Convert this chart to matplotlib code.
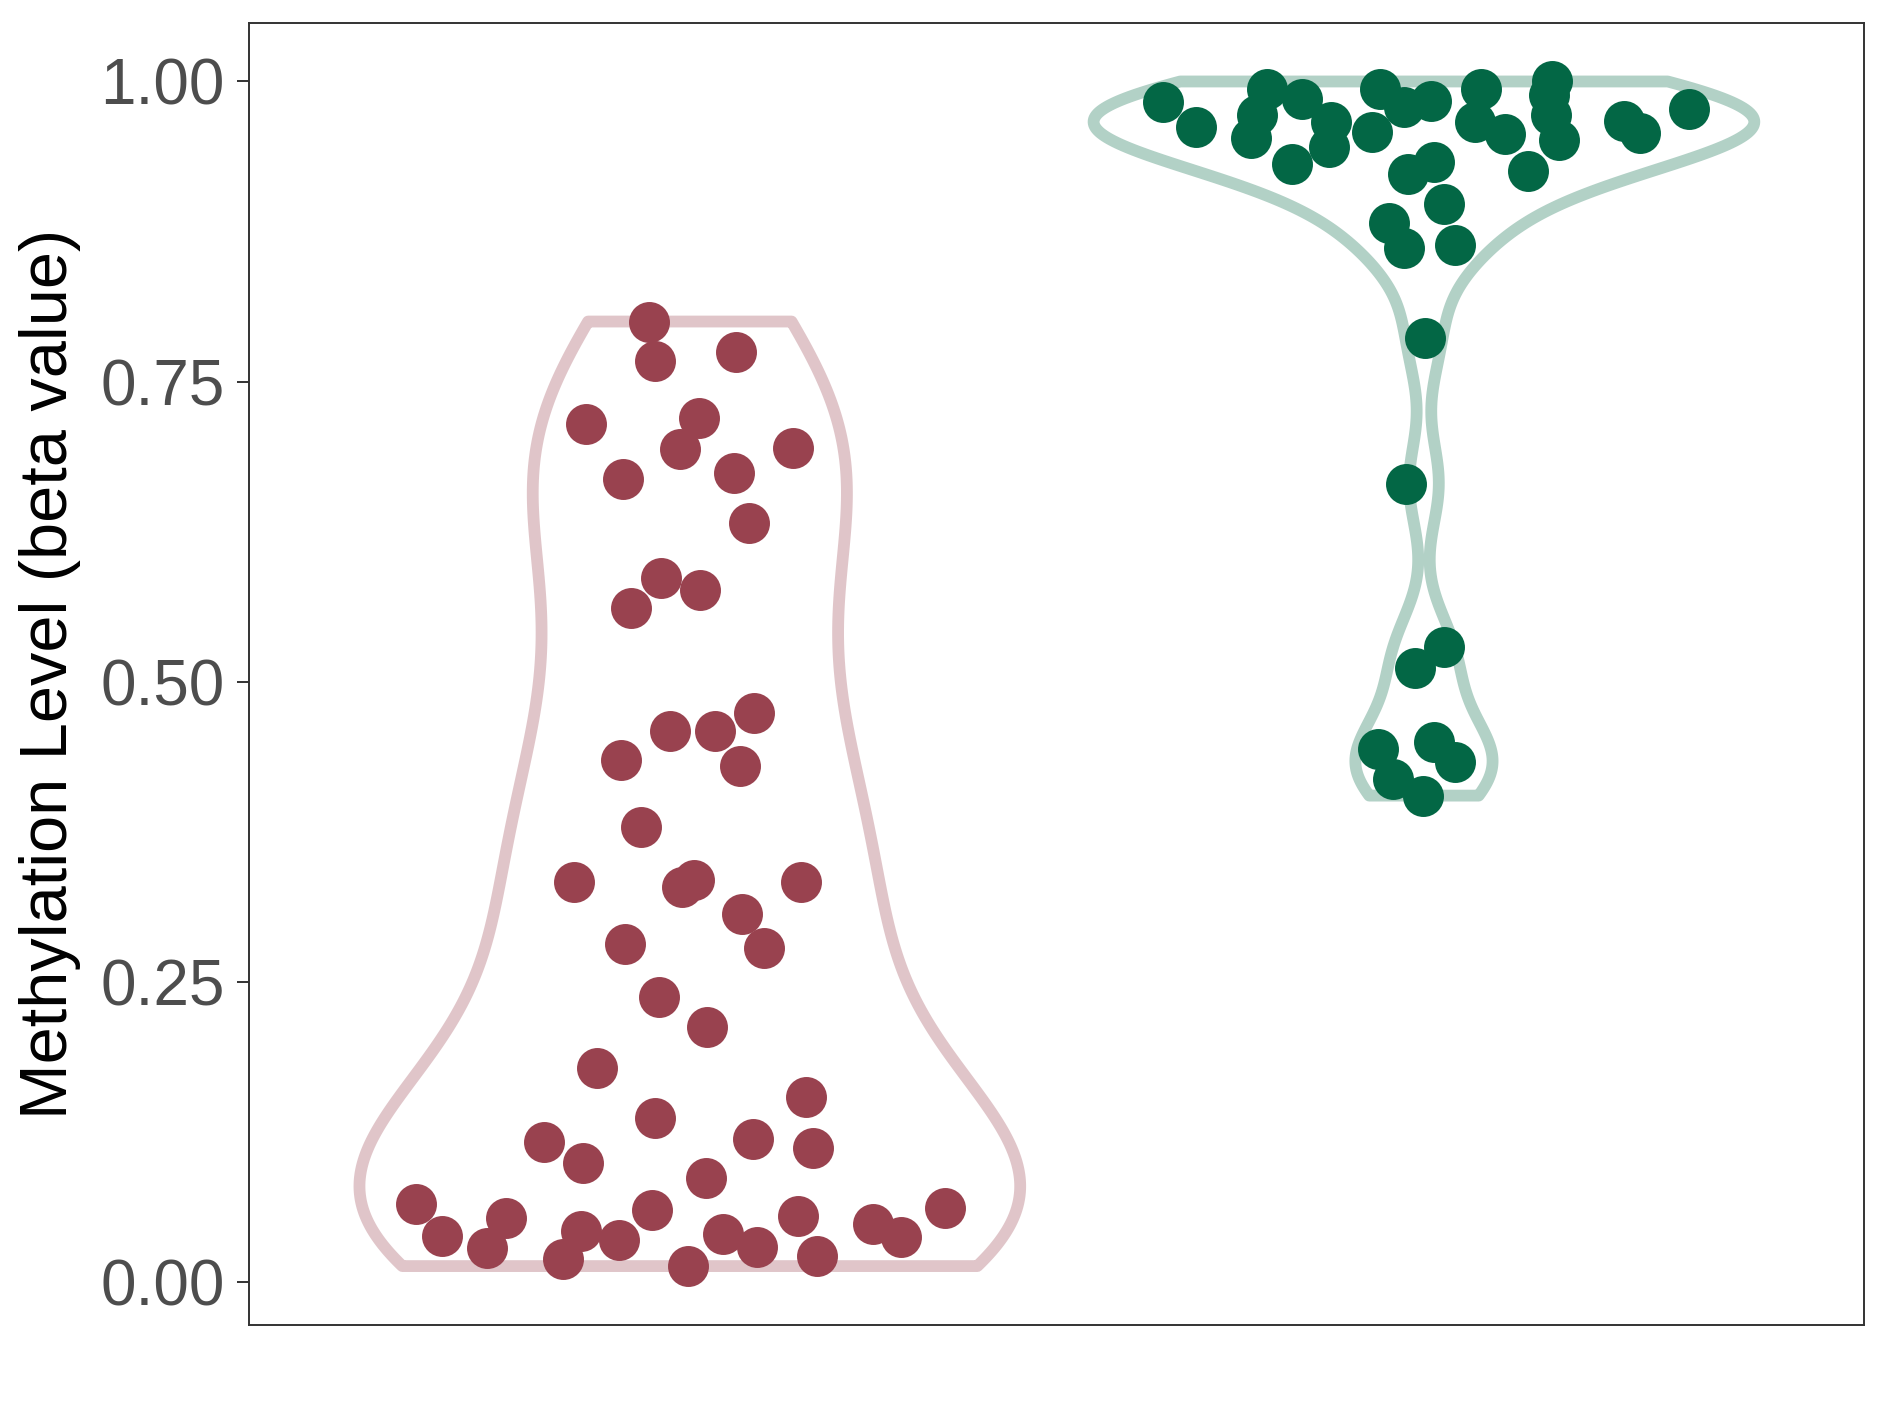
import numpy as np
import matplotlib.pyplot as plt

# methylation values (beta) and horizontal jitter offsets
red_beta = [0.065, 0.038, 0.028, 0.053, 0.019, 0.042, 0.035, 0.116, 0.099, 0.178,
            0.060, 0.136, 0.013, 0.086, 0.040, 0.029, 0.119, 0.055, 0.021, 0.111,
            0.154, 0.048, 0.037, 0.061, 0.237, 0.212, 0.281, 0.278, 0.306, 0.333,
            0.329, 0.335, 0.333, 0.379, 0.435, 0.430, 0.459, 0.459, 0.474, 0.561,
            0.586, 0.576, 0.632, 0.669, 0.674, 0.694, 0.695, 0.715, 0.720, 0.767,
            0.775, 0.800]
red_jitter = [-0.373, -0.337, -0.276, -0.250, -0.173, -0.148, -0.096, -0.198, -0.145, -0.127,
              -0.052, -0.047, -0.002, 0.022, 0.045, 0.091, 0.086, 0.148, 0.173, 0.168,
              0.158, 0.250, 0.288, 0.348, -0.042, 0.024, -0.088, 0.101, 0.071, -0.158,
              -0.011, 0.006, 0.152, -0.066, -0.094, 0.068, -0.027, 0.034, 0.088, -0.080,
              -0.039, 0.014, 0.081, -0.091, 0.060, -0.014, 0.140, -0.142, 0.012, -0.048,
              0.063, -0.055]

green_beta = [0.983, 0.962, 0.953, 0.972, 0.994, 0.985, 0.931, 0.966, 0.945, 0.958,
              0.994, 0.979, 0.984, 0.923, 0.933, 0.966, 0.994, 0.956, 0.925, 1.000,
              0.989, 0.972, 0.951, 0.967, 0.957, 0.977, 0.882, 0.861, 0.898, 0.864,
              0.786, 0.665, 0.511, 0.529, 0.444, 0.419, 0.405, 0.450, 0.433]
green_jitter = [-0.355, -0.311, -0.235, -0.227, -0.214, -0.166, -0.180, -0.127, -0.129, -0.071,
                -0.060, -0.027, 0.009, -0.022, 0.014, 0.070, 0.078, 0.111, 0.142, 0.175,
                0.171, 0.173, 0.184, 0.273, 0.294, 0.361, -0.048, -0.027, 0.027, 0.042,
                0.001, -0.025, -0.012, 0.027, -0.063, -0.042, -0.001, 0.014, 0.042]

groups = [red_beta, green_beta]
jitters = [red_jitter, green_jitter]
colors = ["#99424F", "#036745"]
yticks = [0.00, 0.25, 0.50, 0.75, 1.00]


def nrd0_factor(kde):
    # R's bw.nrd0 expressed as a factor of the sample sd
    d = np.asarray(kde.dataset).ravel()
    sd = np.std(d, ddof=1)
    iqr = np.subtract(*np.percentile(d, [75, 25]))
    bw = 0.9 * min(sd, iqr / 1.34) * len(d) ** -0.2
    return bw / sd


plt.rcParams['font.family'] = ['Liberation Sans', 'DejaVu Sans']

fig = plt.figure(figsize=(18.89, 14.17), dpi=100)
ax = fig.add_axes([0.132, 0.065, 0.855, 0.919])

parts = ax.violinplot(groups, positions=[1, 2], widths=0.9, showextrema=False,
                      points=512, bw_method=nrd0_factor)
for body, c in zip(parts['bodies'], colors):
    body.set_facecolor('none')
    body.set_edgecolor(c)
    body.set_alpha(0.3)
    body.set_linewidth(8.5)
    body.set_joinstyle('round')
    body.set_zorder(1)

for i, (vals, jit, c) in enumerate(zip(groups, jitters, colors)):
    x = i + 1 + np.array(jit)
    ax.scatter(x, vals, s=870, color=c, linewidths=0, zorder=3)

ax.set_xlim(0.4, 2.6)
ax.set_ylim(-0.036, 1.049)
ax.set_xticks([])
ax.set_yticks(yticks)
ax.set_yticklabels(["%.2f" % t for t in yticks])
ax.tick_params(axis='y', length=8.6, width=1.4, color="#333333", pad=9,
               labelsize=46, labelcolor="#4D4D4D")
for sp in ax.spines.values():
    sp.set_color("#333333")
    sp.set_linewidth(1.4)
ax.set_ylabel("Methylation Level (beta value)", fontsize=48, color="black", labelpad=14)

fig.savefig("out.png", dpi=100)
